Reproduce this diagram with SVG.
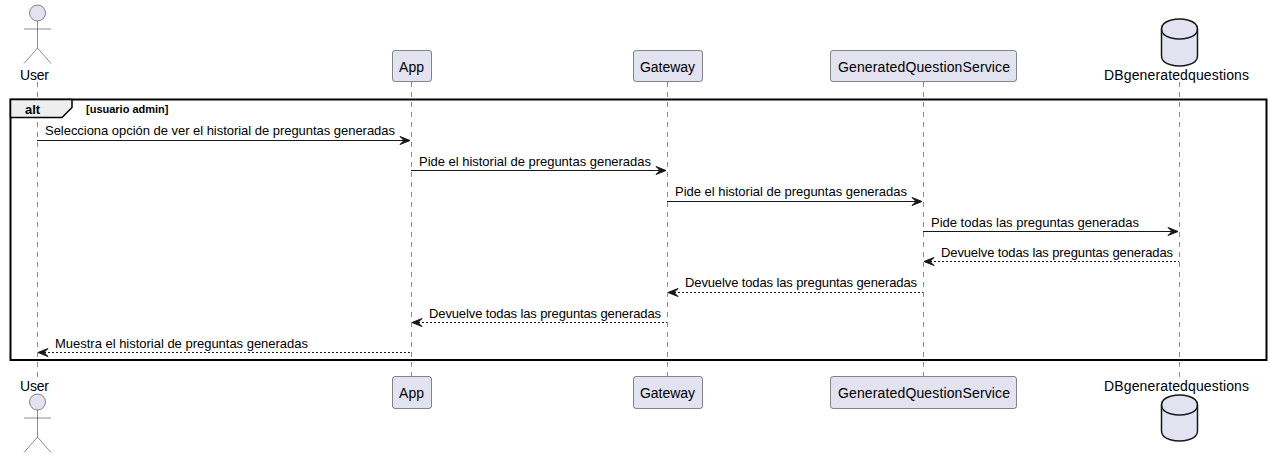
<svg xmlns="http://www.w3.org/2000/svg" width="1270" height="458" viewBox="0 0 1270 458">
<style>
text{font-family:"Liberation Sans",Arial,sans-serif;fill:#000}
.life{stroke:#181818;stroke-width:.5;stroke-dasharray:5 5;fill:none}
.box{fill:#E2E2F0;stroke:#181818;stroke-width:.5}
.act{fill:#E2E2F0;stroke:#181818;stroke-width:.5}
.actl{fill:none;stroke:#181818;stroke-width:.5}
.db{fill:#E2E2F0;stroke:#181818;stroke-width:1.5}
.dbl{fill:none;stroke:#181818;stroke-width:1.5}
.n{font-size:14px}
.m{font-size:13px}
.msg{stroke:#181818;stroke-width:1;fill:none}
.ret{stroke-dasharray:2 2}
.head{fill:#181818;stroke:#181818;stroke-width:1}
</style>
<rect width="1270" height="458" fill="#fff"/>
<g id="lifelines">
<line class="life" x1="37.500" y1="82" x2="37.500" y2="378"/>
<line class="life" x1="411.500" y1="82" x2="411.500" y2="376"/>
<line class="life" x1="667.500" y1="82" x2="667.500" y2="376"/>
<line class="life" x1="923.500" y1="82" x2="923.500" y2="376"/>
<line class="life" x1="1179.500" y1="82" x2="1179.500" y2="378"/>
</g>
<g id="frame">
<path d="M10.500 99.500H1266.500V360H10.500Z" fill="none" stroke="#000" stroke-width="2"/>
<path d="M10.500 99.500H72V107.500L62 117.500H10.500Z" fill="#EEE" stroke="#000" stroke-width="1.500"/>
<text x="25" y="114" font-size="13" font-weight="bold">alt</text>
<text x="86" y="113" font-size="11" font-weight="bold">[usuario admin]</text>
</g>
<g id="connectors">
<path class="msg" d="M37 140.500H404"/><path class="head" d="M400 136.500L410 140.500L400 144.500L404 140.500Z"/>
<text class="m" x="45" y="135" textLength="350">Selecciona opción de ver el historial de preguntas generadas</text>
<path class="msg" d="M411 170.500H660"/><path class="head" d="M656 166.500L666 170.500L656 174.500L660 170.500Z"/>
<text class="m" x="419" y="166" textLength="232">Pide el historial de preguntas generadas</text>
<path class="msg" d="M667 201.500H916"/><path class="head" d="M912 197.500L922 201.500L912 205.500L916 201.500Z"/>
<text class="m" x="675" y="196" textLength="232">Pide el historial de preguntas generadas</text>
<path class="msg" d="M923 231.500H1172"/><path class="head" d="M1168 227.500L1178 231.500L1168 235.500L1172 231.500Z"/>
<text class="m" x="931" y="227" textLength="208">Pide todas las preguntas generadas</text>
<path class="msg ret" d="M930 261.500H1179"/><path class="head" d="M934 257.500L924 261.500L934 265.500L930 261.500Z"/>
<text class="m" x="941" y="257" textLength="232">Devuelve todas las preguntas generadas</text>
<path class="msg ret" d="M674 292.500H923"/><path class="head" d="M678 288.500L668 292.500L678 296.500L674 292.500Z"/>
<text class="m" x="685" y="287" textLength="232">Devuelve todas las preguntas generadas</text>
<path class="msg ret" d="M418 322.500H667"/><path class="head" d="M422 318.500L412 322.500L422 326.500L418 322.500Z"/>
<text class="m" x="429" y="318" textLength="232">Devuelve todas las preguntas generadas</text>
<path class="msg ret" d="M44 352.500H411"/><path class="head" d="M48 348.500L38 352.500L48 356.500L44 352.500Z"/>
<text class="m" x="55" y="348" textLength="253">Muestra el historial de preguntas generadas</text>
</g>
<g id="user-top">
<circle class="act" cx="37.500" cy="13" r="8"/>
<path class="actl" d="M37.500 21V48M24 29H51M37.500 48L24 63.500M37.500 48L51 63.500"/>
<text class="n" x="20" y="80" textLength="29">User</text>
</g>
<g id="user-bottom">
<text class="n" x="20" y="391" textLength="29">User</text>
<circle class="act" cx="37.500" cy="402" r="8"/>
<path class="actl" d="M37.500 410V437M24 418H51M37.500 437L24 452.500M37.500 437L51 452.500"/>
</g>
<g id="app-top"><rect class="box" x="392.500" y="50.500" width="39" height="31" rx="2.500"/><text class="n" x="399" y="72" textLength="25">App</text></g>
<g id="app-bottom"><rect class="box" x="392.500" y="376.500" width="39" height="32" rx="2.500"/><text class="n" x="399" y="398" textLength="25">App</text></g>
<g id="gateway-top"><rect class="box" x="633.500" y="50.500" width="69" height="31" rx="2.500"/><text class="n" x="640" y="72" textLength="55">Gateway</text></g>
<g id="gateway-bottom"><rect class="box" x="633.500" y="376.500" width="69" height="32" rx="2.500"/><text class="n" x="640" y="398" textLength="55">Gateway</text></g>
<g id="service-top"><rect class="box" x="830.500" y="50.500" width="186" height="31" rx="2.500"/><text class="n" x="838" y="72" textLength="172">GeneratedQuestionService</text></g>
<g id="service-bottom"><rect class="box" x="830.500" y="376.500" width="186" height="32" rx="2.500"/><text class="n" x="838" y="398" textLength="172">GeneratedQuestionService</text></g>
<g id="db-top">
<path class="db" d="M1161.500 29C1161.500 19 1179.500 19 1179.500 19C1179.500 19 1197.500 19 1197.500 29V56C1197.500 66 1179.500 66 1179.500 66C1179.500 66 1161.500 66 1161.500 56Z"/>
<path class="dbl" d="M1161.500 29C1161.500 39 1179.500 39 1179.500 39C1179.500 39 1197.500 39 1197.500 29"/>
<text class="n" x="1104" y="80" textLength="145">DBgeneratedquestions</text>
</g>
<g id="db-bottom">
<text class="n" x="1104" y="391" textLength="145">DBgeneratedquestions</text>
<path class="db" d="M1161.500 405C1161.500 395 1179.500 395 1179.500 395C1179.500 395 1197.500 395 1197.500 405V431C1197.500 441 1179.500 441 1179.500 441C1179.500 441 1161.500 441 1161.500 431Z"/>
<path class="dbl" d="M1161.500 405C1161.500 415 1179.500 415 1179.500 415C1179.500 415 1197.500 415 1197.500 405"/>
</g>
</svg>
